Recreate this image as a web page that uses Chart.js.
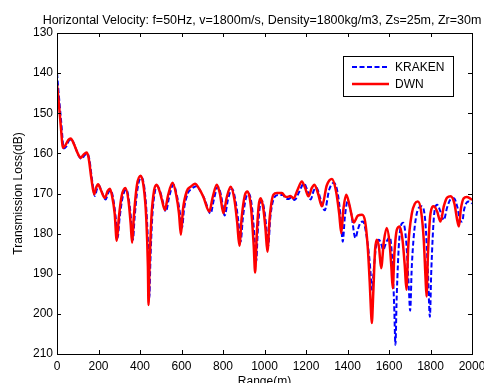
<!DOCTYPE html>
<html>
<head>
<meta charset="utf-8">
<script src="https://cdn.jsdelivr.net/npm/chart.js@4"></script>
<style>
  body { margin: 0; background: #fff; }
  #tlChart { display: block; }
</style>
</head>
<body>
<canvas id="tlChart" width="484" height="383"></canvas>
<script>
// KRAKEN (blue dashed) - range (m) and transmission loss (dB)
const krakenRange = [0, 8, 20, 33, 45, 58, 70, 85, 103, 118, 133, 146, 156, 170, 183, 192, 202, 216, 234, 249, 259, 270, 283, 292, 302, 316, 334, 349, 359, 366, 374, 389, 407, 422, 434, 442, 445, 450, 459, 472, 484, 499, 510, 525, 540, 561, 579, 593, 603, 612, 630, 650, 670, 690, 712, 740, 756, 775, 791, 808, 824, 843, 861, 874, 885, 896, 911, 924, 941, 953, 960, 967, 977, 988, 1000, 1010, 1018, 1028, 1047, 1065, 1088, 1102, 1113, 1130, 1145, 1168, 1190, 1205, 1222, 1238, 1250, 1268, 1290, 1312, 1335, 1353, 1367, 1377, 1387, 1400, 1418, 1438, 1450, 1462, 1475, 1490, 1505, 1513, 1518, 1525, 1538, 1551, 1562, 1572, 1588, 1604, 1615, 1625, 1631, 1637, 1650, 1668, 1683, 1695, 1702, 1710, 1730, 1757, 1775, 1788, 1797, 1804, 1818, 1832, 1848, 1864, 1880, 1896, 1913, 1930, 1945, 1953, 1962, 1975, 1985, 2000];
const krakenTL = [140, 145, 152, 158.8, 158.3, 156.8, 156.6, 158, 160.5, 161.4, 160.5, 160, 161.5, 167, 170.6, 169, 168, 169.6, 171.5, 169.6, 169.2, 171, 176, 181, 176, 171, 169, 172.5, 177.5, 181.5, 176, 168.5, 166, 169, 177, 188, 196, 187, 176, 169.5, 168.2, 169.8, 172, 174.5, 171, 167.8, 170.8, 175, 178.5, 174, 170, 168.8, 168.2, 169.3, 171.5, 175, 171.5, 168.3, 170.5, 175.5, 171.5, 168.8, 172, 177, 182, 176, 171, 170, 174, 182, 187, 180, 173.5, 171.8, 174.5, 179, 183, 176, 171, 170.4, 170.4, 171.2, 171.4, 171, 171.6, 169.5, 167.5, 169, 171.5, 169.2, 168.5, 171, 174.2, 169, 167.3, 170, 176, 182, 176, 172, 175, 181.1, 179, 177.3, 177, 180, 186, 191, 194, 190, 183, 181.5, 182.5, 184, 182, 180.9, 186, 198, 207.7, 196, 181, 177.3, 182, 193, 199.2, 188, 176, 173.2, 177, 190, 200.7, 189, 175, 172.8, 174.5, 176.6, 173.5, 171.5, 171.2, 173.5, 177, 177, 174, 172.2, 172, 172.5];

// DWN (red solid)
const dwnRange = [0, 8, 18, 29, 40, 55, 66, 80, 100, 114, 130, 142, 152, 165, 179, 188, 198, 212, 230, 245, 255, 265, 278, 288, 298, 312, 330, 345, 355, 362, 370, 385, 403, 418, 430, 438, 441, 446, 455, 468, 480, 495, 505, 520, 535, 557, 575, 588, 597, 607, 625, 645, 665, 685, 705, 734, 750, 770, 785, 802, 818, 837, 855, 868, 879, 890, 905, 918, 935, 948, 955, 962, 972, 982, 995, 1005, 1014, 1025, 1043, 1060, 1084, 1098, 1108, 1125, 1140, 1160, 1180, 1195, 1212, 1228, 1241, 1258, 1277, 1300, 1325, 1345, 1360, 1370, 1380, 1394, 1410, 1430, 1450, 1470, 1485, 1497, 1507, 1513, 1517, 1524, 1533, 1541, 1552, 1562, 1575, 1589, 1602, 1611, 1618, 1626, 1638, 1652, 1665, 1676, 1684, 1693, 1710, 1725, 1739, 1755, 1768, 1776, 1781, 1787, 1800, 1816, 1832, 1848, 1865, 1880, 1897, 1915, 1930, 1937, 1946, 1960, 1974, 1990, 2000];
const dwnTL = [142.8, 147, 153, 158.6, 158, 156.6, 156.3, 157.5, 160, 161.1, 160.2, 159.8, 161, 166, 170.2, 168.6, 167.7, 169.2, 171.1, 169.3, 168.8, 170.5, 175, 181.8, 176, 170.5, 168.6, 172, 177.5, 182.3, 176, 168, 165.6, 168.5, 176, 188, 197.8, 188, 176, 169.2, 167.8, 169.5, 171.5, 174.1, 170.5, 167.3, 170.5, 175, 180.3, 174, 169.5, 168.3, 167.6, 168.8, 170.8, 174.5, 171, 167.8, 170, 174.9, 171, 168.3, 171.5, 177, 183, 176, 170.5, 169.5, 173.5, 183, 189.7, 181, 173, 171.2, 174, 179, 184.5, 176, 170.3, 169.9, 169.9, 170.7, 170.9, 170.6, 171.2, 169, 167, 168.5, 170.7, 168.6, 167.8, 170, 173.2, 168, 166.4, 169.5, 175, 179.9, 174, 170.3, 173, 177.2, 175.5, 175.3, 177, 183, 192, 199, 202.3, 195, 184, 181.5, 183.5, 188.6, 182, 178.6, 182, 188, 193.6, 185, 179, 178.2, 181.5, 188, 194, 183, 175, 172.5, 172, 174.5, 182, 191, 195.7, 186, 175, 173.2, 174.5, 177, 173, 171, 170.7, 172.5, 177, 178.2, 174, 171.2, 170.9, 171.2, 171.6];

const xTicks = [0, 200, 400, 600, 800, 1000, 1200, 1400, 1600, 1800, 2000];
const yTicks = [130, 140, 150, 160, 170, 180, 190, 200, 210];

const titleText = 'Horizontal Velocity: f=50Hz, v=1800m/s, Density=1800kg/m3, Zs=25m, Zr=30m';
const fontFamily = '"Liberation Sans", Arial, sans-serif';

function toPoints(xs, ys) {
    return xs.map((x, i) => ({ x: x, y: ys[i] }));
}

// title, box round the plot, inward ticks on all four sides, legend inside the axes
const framePlugin = {
    id: 'frame',
    afterDraw(chart) {
        const { ctx, chartArea: a, scales: { x, y } } = chart;
        ctx.save();

        // title (drawn here so it is not squeezed into the plot width)
        ctx.fillStyle = '#000';
        ctx.font = '12.5px ' + fontFamily;
        ctx.textAlign = 'center';
        ctx.textBaseline = 'middle';
        ctx.fillText(titleText, 262, 20.5);

        ctx.strokeStyle = '#000';
        ctx.lineWidth = 1;
        ctx.strokeRect(a.left + 0.5, a.top + 0.5, a.right - a.left, a.bottom - a.top);

        ctx.beginPath();
        xTicks.forEach(v => {
            const px = Math.round(x.getPixelForValue(v)) + 0.5;
            ctx.moveTo(px, a.bottom); ctx.lineTo(px, a.bottom - 4);
            ctx.moveTo(px, a.top); ctx.lineTo(px, a.top + 4);
        });
        yTicks.forEach(v => {
            const py = Math.round(y.getPixelForValue(v)) + 0.5;
            ctx.moveTo(a.left, py); ctx.lineTo(a.left + 4, py);
            ctx.moveTo(a.right, py); ctx.lineTo(a.right - 4, py);
        });
        ctx.stroke();

        // legend
        const lx = 343.5, ly = 56.5, lw = 110, lh = 40;
        ctx.fillStyle = '#fff';
        ctx.fillRect(lx, ly, lw, lh);
        ctx.strokeRect(lx, ly, lw, lh);
        const rows = [chart.data.datasets[0], chart.data.datasets[1]];
        rows.forEach((ds, i) => {
            const yy = 67 + i * 17;
            ctx.beginPath();
            ctx.strokeStyle = ds.borderColor;
            ctx.lineWidth = ds.borderWidth;
            ctx.setLineDash(ds.borderDash || []);
            ctx.moveTo(352, yy); ctx.lineTo(389, yy);
            ctx.stroke();
            ctx.setLineDash([]);
            ctx.fillStyle = '#000';
            ctx.font = '12px ' + fontFamily;
            ctx.textBaseline = 'middle';
            ctx.textAlign = 'left';
            ctx.fillText(ds.label, 395, yy + 0.5);
        });
        ctx.restore();
    }
};

const ctx = document.getElementById('tlChart').getContext('2d');
const tlChart = new Chart(ctx, {
    type: 'line',
    data: {
        datasets: [{
            label: 'KRAKEN',
            data: toPoints(krakenRange, krakenTL),
            borderColor: '#0000ff',
            borderWidth: 2,
            borderDash: [5, 2.5],
            pointRadius: 0,
            cubicInterpolationMode: 'monotone',
            order: 1
        }, {
            label: 'DWN',
            data: toPoints(dwnRange, dwnTL),
            borderColor: '#ff0000',
            borderWidth: 2.5,
            pointRadius: 0,
            cubicInterpolationMode: 'monotone',
            order: 0
        }]
    },
    options: {
        responsive: false,
        animation: false,
        devicePixelRatio: 1,
        layout: { padding: { left: 0, right: 12, top: 33, bottom: 0 } },
        plugins: {
            legend: { display: false },
            tooltip: { enabled: false },
            title: { display: false }
        },
        scales: {
            x: {
                type: 'linear',
                min: 0,
                max: 2000,
                afterFit(scale) {
                    scale.height = 29;
                    scale.paddingLeft = 0;
                    scale.paddingRight = 0;
                },
                afterBuildTicks(scale) { scale.ticks = xTicks.map(v => ({ value: v })); },
                grid: { display: false, drawTicks: false },
                border: { display: false },
                ticks: {
                    color: '#000',
                    padding: 5,
                    maxRotation: 0,
                    autoSkip: false,
                    callback: v => String(v),
                    font: { family: fontFamily, size: 12 }
                },
                title: {
                    display: true,
                    text: 'Range(m)',
                    color: '#000',
                    font: { family: fontFamily, size: 12, lineHeight: 1.2 },
                    padding: { top: 0, bottom: -6 }
                }
            },
            y: {
                type: 'linear',
                reverse: true,
                min: 130,
                max: 210,
                afterFit(scale) {
                    scale.width = 57;
                    scale.paddingTop = 0;
                    scale.paddingBottom = 0;
                },
                afterBuildTicks(scale) { scale.ticks = yTicks.map(v => ({ value: v })); },
                grid: { display: false, drawTicks: false },
                border: { display: false },
                ticks: {
                    color: '#000',
                    padding: 4,
                    autoSkip: false,
                    callback: v => String(v),
                    font: { family: fontFamily, size: 12 }
                },
                title: {
                    display: true,
                    text: 'Transmission Loss(dB)',
                    color: '#000',
                    font: { family: fontFamily, size: 12, lineHeight: 1.2 },
                    padding: { top: 11.5, bottom: 0 }
                }
            }
        }
    },
    plugins: [framePlugin]
});
</script>
</body>
</html>
